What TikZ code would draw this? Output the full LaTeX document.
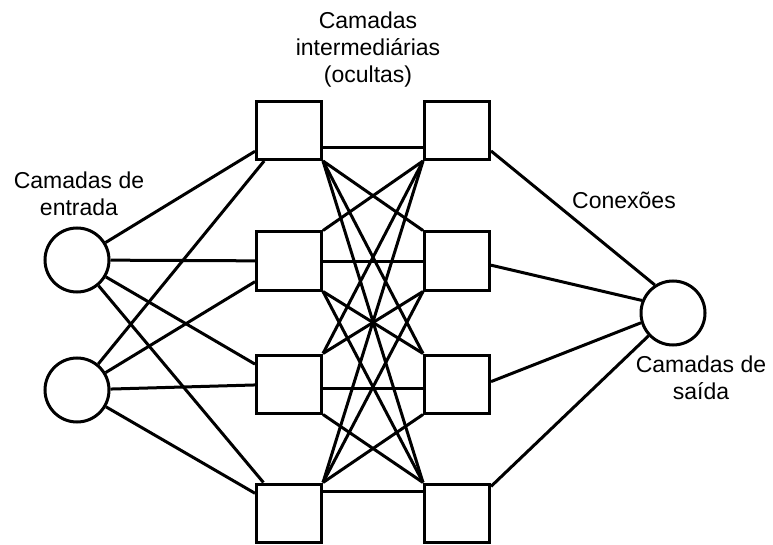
\documentclass[tikz,border=0pt]{standalone}
\usepackage{fontspec}
\setmainfont{Liberation Sans}
\usetikzlibrary{positioning}
\tikzset{
  lnk/.style={line width=3pt},
  unit/.style={circle,draw,line width=3pt,minimum size=64pt,inner sep=0pt,fill=white},
  hbox/.style={rectangle,draw,line width=3pt,minimum width=65pt,minimum height=58pt,inner sep=0pt,fill=white},
  lblnode/.style={font=\fontsize{23}{27}\selectfont,align=center,inner sep=0pt},
}

\begin{document}
\begin{tikzpicture}[x=1pt,y=-1pt]
  \useasboundingbox (0,0) rectangle (773,545);
  % entrada e saida
  \node[unit] (in1) at (77,260) {};
  \node[unit] (in2) at (77,390) {};
  \node[unit] (out) at (673,313) {};
  % camadas ocultas
  \foreach \r/\y in {1/130.5,2/261,3/384,4/513}{
    \node[hbox] (hA\r) at (289,\y) {};
    \node[hbox] (hB\r) at (457,\y) {};
  }
  % entrada -> primeira camada
  \foreach \i in {1,2}{\foreach \r in {1,...,4}{\draw[lnk] (in\i) -- (hA\r);}}
  % ligacoes horizontais
  \foreach \r/\a in {1/-27,2/0,3/-7,4/32}{
    \pgfmathsetmacro{\b}{180-\a}
    \draw[lnk] (hA\r.\a) -- (hB\r.\b);
  }
  % ligacoes cruzadas
  \foreach \r in {1,...,4}{\foreach \s in {1,...,4}{
    \ifnum\r<\s \draw[lnk] (hA\r.south east) -- (hB\s.north west);\fi
    \ifnum\r>\s \draw[lnk] (hA\r.north east) -- (hB\s.south west);\fi
  }}
  % segunda camada -> saida
  \foreach \r/\a/\b in {1/-31/123,2/-7/158,3/4/197,4/38/223}{
    \draw[lnk] (hB\r.\a) -- (out.\b);
  }
  % textos
  \node[lblnode] (lhid) at (368,50) {Camadas\\intermediárias\\(ocultas)};
  \node[lblnode] (lin) at (79,194) {Camadas de\\entrada};
  \node[lblnode] (lcon) at (624,200) {Conexões};
  \node[lblnode] (lout) at (701,378) {Camadas de\\saída};
\end{tikzpicture}
\end{document}
